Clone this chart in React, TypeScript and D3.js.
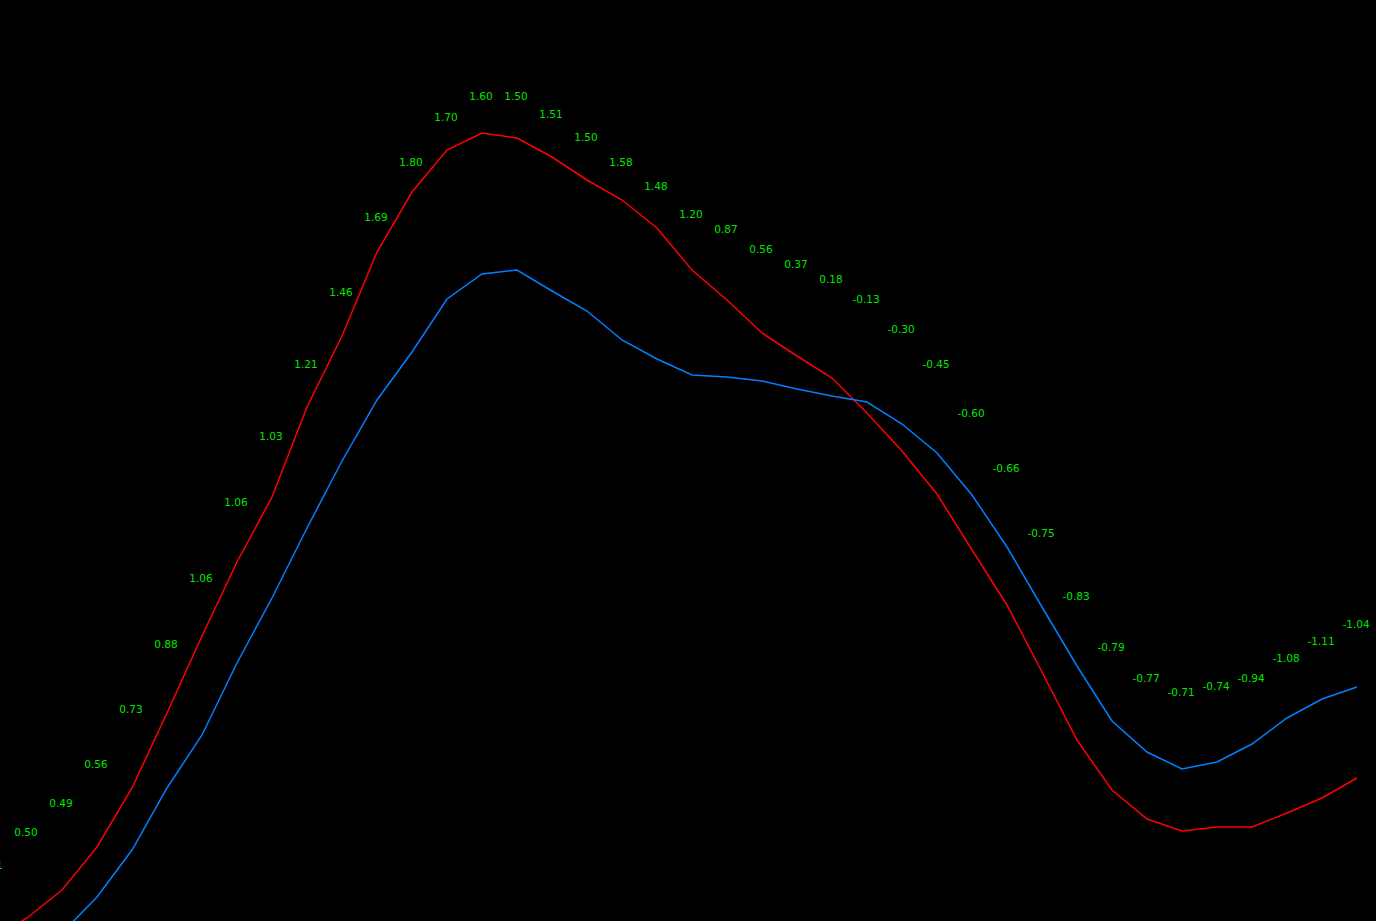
import * as d3 from "d3";

// one entry per bar of the series (index 0 sits just left of the visible area)
const redSeries = [
  -1.8, 0.3, 3.1, 7.4, 13.3, 20.8, 28.5, 35.9, 42.4, 51.4, 58.5, 66.9, 72.9, 77.1,
  78.8, 78.3, 76.4, 74.1, 72.1, 69.3, 65.1, 62.1, 58.8, 56.5, 54.3, 50.8, 47.0,
  42.7, 37.1, 31.6, 24.9, 18.1, 13.1, 10.2, 9.0, 9.4, 9.4, 10.8, 12.3, 14.3,
];

const blueSeries = [
  -7.9, -4.4, -1.2, 2.4, 7.1, 13.3, 18.6, 25.8, 32.3, 39.3, 46.0, 52.1, 56.9, 62.2,
  64.7, 65.1, 63.0, 61.0, 58.1, 56.2, 54.6, 54.4, 54.0, 53.2, 52.5, 51.9, 49.7,
  46.8, 42.6, 37.4, 31.4, 25.5, 20.0, 16.9, 15.2, 15.9, 17.7, 20.3, 22.2, 23.4,
];

// level at which each value label is anchored
const labelLevel = [
  5.6, 8.9, 11.8, 15.7, 21.2, 27.7, 34.3, 41.9, 48.5, 55.7, 62.9, 70.4, 75.9, 80.4,
  82.5, 82.5, 80.7, 78.4, 75.9, 73.5, 70.7, 69.2, 67.2, 65.7, 64.2, 62.2, 59.2,
  55.7, 50.8, 45.3, 38.8, 32.5, 27.4, 24.3, 22.9, 23.5, 24.3, 26.3, 28.0, 29.7,
];

const labelText = [
  "0.51", "0.50", "0.49", "0.56", "0.73", "0.88", "1.06", "1.06", "1.03", "1.21",
  "1.46", "1.69", "1.80", "1.70", "1.60", "1.50", "1.51", "1.50", "1.58", "1.48",
  "1.20", "0.87", "0.56", "0.37", "0.18", "-0.13", "-0.30", "-0.45", "-0.60", "-0.66",
  "-0.75", "-0.83", "-0.79", "-0.77", "-0.71", "-0.74", "-0.94", "-1.08", "-1.11", "-1.04",
];

const W = 1376;
const H = 921;

export default function App() {
  const x = d3.scaleLinear().domain([0, redSeries.length - 1]).range([-8, 1357]);
  const y = d3.scaleLinear().domain([0, 92.1]).range([H, 0]);

  const line = d3
    .line<number>()
    .x((_, i) => x(i))
    .y((d) => y(d));

  return (
    <svg
      width={W}
      height={H}
      style={{ position: "absolute", left: 0, top: 0, background: "#000", display: "block" }}
    >
      <rect width={W} height={H} fill="#000" />
      <path d={line(redSeries) ?? ""} fill="none" stroke="#ff0000" strokeWidth={1.5} />
      <path d={line(blueSeries) ?? ""} fill="none" stroke="#0080ff" strokeWidth={1.5} />
      {labelText.map((t, i) => (
        <text
          key={i}
          x={x(i) - 1}
          y={y(labelLevel[i])}
          dy="0.36em"
          textAnchor="middle"
          fill="#00e600"
          fontFamily="Tahoma, 'DejaVu Sans', sans-serif"
          fontSize={10.5}
        >
          {t}
        </text>
      ))}
    </svg>
  );
}
